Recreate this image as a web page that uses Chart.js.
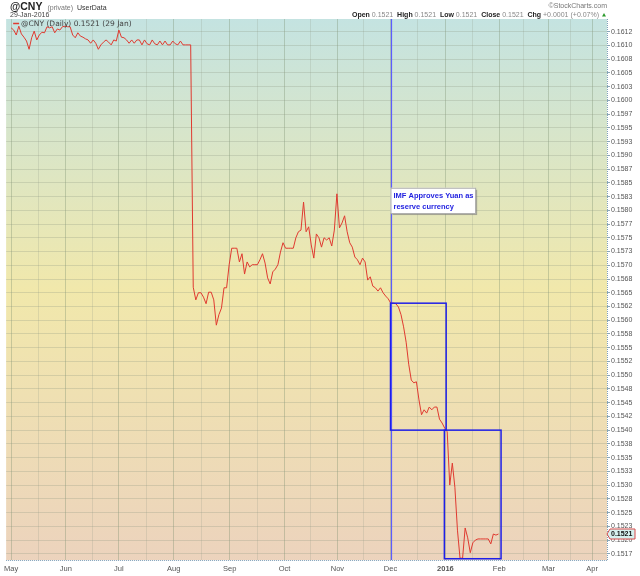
<!DOCTYPE html>
<html>
<head>
<meta charset="utf-8">
<script src="https://cdn.jsdelivr.net/npm/chart.js@4.4.0/dist/chart.umd.min.js"></script>
<style>
  body { margin: 0; background: #fff; }
  #wrap { width: 640px; height: 576px; }
</style>
</head>
<body>
<div id="wrap"><canvas id="myChart" width="640" height="576"></canvas></div>
<script>
// daily close, one value per trading day starting 1 May 2015
var rates = [
  0.16132, 0.16128, 0.16119, 0.16135, 0.16121, 0.16115, 0.16108, 0.16093, 0.16114, 0.16126,
  0.16110, 0.16119, 0.16124, 0.16123, 0.16134, 0.16132, 0.16134, 0.16123, 0.16130, 0.16128,
  0.16134, 0.16135, 0.16134, 0.16134, 0.16119, 0.16114, 0.16123, 0.16117, 0.16115, 0.16112,
  0.16110, 0.16104, 0.16110, 0.16104, 0.16093, 0.16101, 0.16106, 0.16110, 0.16106, 0.16101,
  0.16110, 0.16108, 0.16128, 0.16115, 0.16114, 0.16110, 0.16104, 0.16110, 0.16104, 0.16110,
  0.16110, 0.16101, 0.16110, 0.16103, 0.16101, 0.16110, 0.16103, 0.16101, 0.16108, 0.16101,
  0.16108, 0.16101, 0.16101, 0.16108, 0.16103, 0.16101, 0.16108, 0.16101, 0.16101, 0.16101,
  0.16101, 0.15660, 0.15637, 0.15650, 0.15650, 0.15642, 0.15630, 0.15651, 0.15651, 0.15637,
  0.15591, 0.15610, 0.15622, 0.15659, 0.15659, 0.15701, 0.15731, 0.15731, 0.15731, 0.15706,
  0.15721, 0.15684, 0.15706, 0.15697, 0.15701, 0.15701, 0.15701, 0.15710, 0.15721, 0.15704,
  0.15677, 0.15666, 0.15688, 0.15693, 0.15701, 0.15724, 0.15741, 0.15731, 0.15731, 0.15731,
  0.15731, 0.15750, 0.15761, 0.15764, 0.15815, 0.15761, 0.15770, 0.15737, 0.15713, 0.15757,
  0.15750, 0.15733, 0.15750, 0.15746, 0.15750, 0.15735, 0.15764, 0.15830, 0.15768, 0.15777,
  0.15790, 0.15761, 0.15741, 0.15733, 0.15715, 0.15710, 0.15701, 0.15713, 0.15706, 0.15673,
  0.15679, 0.15662, 0.15659, 0.15653, 0.15659, 0.15650, 0.15644, 0.15639, 0.15631, 0.15631,
  0.15630, 0.15624, 0.15610, 0.15588, 0.15560, 0.15520, 0.15491, 0.15486, 0.15488, 0.15455,
  0.15428, 0.15437, 0.15431, 0.15442, 0.15437, 0.15442, 0.15442, 0.15420, 0.15413, 0.15404,
  0.15397, 0.15300, 0.15340, 0.15296, 0.15218, 0.15167, 0.15167, 0.15222, 0.15204, 0.15177,
  0.15195, 0.15200, 0.15202, 0.15202, 0.15202, 0.15202, 0.15202, 0.15193, 0.15211, 0.15209,
  0.15211
];

// month boundaries in trading days
var monthPos = [0, 21.3, 42, 63.4, 85.2, 106.6, 127.2, 147.9, 169.3, 190.3, 209.5, 226.5];
var monthLabels = ['May', 'Jun', 'Jul', 'Aug', 'Sep', 'Oct', 'Nov', 'Dec', '2016', 'Feb', 'Mar', 'Apr'];

// right axis, bottom to top
var yTickLabels = ['0.1517', '0.1520', '0.1523', '0.1525', '0.1528', '0.1530', '0.1533', '0.1535',
  '0.1538', '0.1540', '0.1542', '0.1545', '0.1548', '0.1550', '0.1552', '0.1555', '0.1558', '0.1560',
  '0.1562', '0.1565', '0.1568', '0.1570', '0.1573', '0.1575', '0.1577', '0.1580', '0.1583', '0.1585',
  '0.1587', '0.1590', '0.1593', '0.1595', '0.1597', '0.1600', '0.1603', '0.1605', '0.1608', '0.1610',
  '0.1612'];
var yTickStart = 0.15175, yTickStep = 0.00025;

var lastClose = '0.1521';

var points = rates.map(function (v, i) { return {x: i, y: v}; });

var xTicks = [];
monthPos.forEach(function (p, i) {
  xTicks.push(p);
  if (i < monthPos.length - 1) xTicks.push((p + monthPos[i + 1]) / 2);
});

var FONT = '"Liberation Sans", Arial, sans-serif';

var background = {
  id: 'background',
  beforeDraw: function (chart) {
    var c = chart.ctx, a = chart.chartArea;
    var g = c.createLinearGradient(0, a.top, 0, a.bottom);
    g.addColorStop(0, '#c4e3e1');
    g.addColorStop(0.5, '#f1e8ab');
    g.addColorStop(1, '#ecd3bd');
    c.save();
    c.fillStyle = g;
    c.fillRect(a.left, a.top, a.right - a.left, a.bottom - a.top);
    c.restore();
  }
};

var notes = {
  id: 'notes',
  afterDatasetsDraw: function (chart) {
    var c = chart.ctx, a = chart.chartArea;
    var xs = chart.scales.x, ys = chart.scales.y;
    c.save();

    // dotted axis edges
    c.strokeStyle = '#7f9fb8';
    c.lineWidth = 1;
    c.setLineDash([1, 1]);
    c.beginPath();
    c.moveTo(a.left, a.bottom + 0.5); c.lineTo(a.right, a.bottom + 0.5);
    c.moveTo(a.right + 0.5, a.top); c.lineTo(a.right + 0.5, a.bottom);
    c.stroke();
    c.setLineDash([]);

    // Dec 1 marker
    var xd = Math.round(xs.getPixelForValue(147.9)) + 0.5;
    c.strokeStyle = '#5c5cff';
    c.lineWidth = 1.2;
    c.beginPath(); c.moveTo(xd, a.top); c.lineTo(xd, a.bottom); c.stroke();

    // the two boxes
    c.strokeStyle = '#1f1fe8';
    c.lineWidth = 1.5;
    function box(x0, x1, y0, y1) {
      var l = xs.getPixelForValue(x0), r = xs.getPixelForValue(x1);
      var t = ys.getPixelForValue(y0), b = ys.getPixelForValue(y1);
      c.strokeRect(l, t, r - l, b - t);
    }
    box(147.9, 169.6, 0.15631, 0.15400);
    box(168.9, 191.0, 0.15400, 0.15166);

    // note
    var nl = xs.getPixelForValue(147.9), nr = xs.getPixelForValue(180.9);
    var nt = ys.getPixelForValue(0.15841), nb = ys.getPixelForValue(0.15795);
    c.fillStyle = 'rgba(120,120,120,0.6)';
    c.fillRect(nl + 2, nt + 2, nr - nl, nb - nt);
    c.fillStyle = '#ffffff';
    c.fillRect(nl, nt, nr - nl, nb - nt);
    c.strokeStyle = '#b0b0b0';
    c.lineWidth = 1;
    c.strokeRect(nl + 0.5, nt + 0.5, nr - nl, nb - nt);
    c.fillStyle = '#2424e0';
    c.font = 'bold 7.5px ' + FONT;
    c.textBaseline = 'alphabetic';
    c.fillText('IMF Approves Yuan as', nl + 3, nt + 10);
    c.fillText('reserve currency', nl + 3, nt + 21);

    // legend
    c.strokeStyle = '#e03a30';
    c.lineWidth = 1.5;
    c.beginPath(); c.moveTo(a.left + 7, 23.5); c.lineTo(a.left + 13, 23.5); c.stroke();
    c.fillStyle = '#444';
    c.font = '7.5px "DejaVu Sans", sans-serif';
    c.fillText('@CNY (Daily) ' + lastClose + ' (29 Jan)', a.left + 15, 26);
    c.restore();
  },
  afterDraw: function (chart) {
    var c = chart.ctx, a = chart.chartArea, ys = chart.scales.y;
    c.save();
    c.textBaseline = 'alphabetic';
    c.fillStyle = '#222';
    c.font = 'bold 10.5px ' + FONT;
    c.fillText('@CNY', 10, 10);
    var w = c.measureText('@CNY').width;
    c.font = '7px ' + FONT;
    c.fillStyle = '#777';
    c.fillText('(private)', 10 + w + 5, 10);
    var w2 = c.measureText('(private) ').width;
    c.fillStyle = '#333';
    c.fillText('UserData', 10 + w + 5 + w2 + 2, 10);
    c.fillStyle = '#444';
    c.fillText('29-Jan-2016', 10, 17);

    c.fillStyle = '#777';
    c.textAlign = 'right';
    c.fillText('\u00a9StockCharts.com', a.right, 8);

    // quote line, right aligned
    var parts = [
      ['Open ', true], ['0.1521  ', false], ['High ', true], ['0.1521  ', false],
      ['Low ', true], ['0.1521  ', false], ['Close ', true], ['0.1521  ', false],
      ['Chg ', true], ['+0.0001 (+0.07%) ', false]
    ];
    c.textAlign = 'left';
    var total = 0;
    parts.forEach(function (p) {
      c.font = (p[1] ? 'bold ' : '') + '7px ' + FONT;
      total += c.measureText(p[0]).width;
    });
    var x = a.right - 6 - total;
    parts.forEach(function (p) {
      c.font = (p[1] ? 'bold ' : '') + '7px ' + FONT;
      c.fillStyle = p[1] ? '#222' : '#888';
      c.fillText(p[0], x, 17);
      x += c.measureText(p[0]).width;
    });
    c.fillStyle = '#2a9a2a';
    c.beginPath(); c.moveTo(a.right - 5, 16.5); c.lineTo(a.right - 1, 16.5); c.lineTo(a.right - 3, 13); c.closePath(); c.fill();

    // last close tag
    var yp = ys.getPixelForValue(rates[rates.length - 1]);
    c.fillStyle = '#d6f0ee';
    c.strokeStyle = '#d84a4a';
    c.lineWidth = 1;
    c.beginPath();
    c.moveTo(a.right, yp);
    c.lineTo(a.right + 3, yp - 5);
    c.lineTo(a.right + 28, yp - 5);
    c.lineTo(a.right + 28, yp + 5);
    c.lineTo(a.right + 3, yp + 5);
    c.closePath();
    c.fill(); c.stroke();
    c.fillStyle = '#111';
    c.font = 'bold 7px ' + FONT;
    c.textBaseline = 'middle';
    c.fillText(lastClose, a.right + 4, yp + 0.5);
    c.restore();
  }
};

var ctx = document.getElementById('myChart').getContext('2d');
var myChart = new Chart(ctx, {
  type: 'line',
  data: {
    datasets: [{
      label: '@CNY',
      data: points,
      borderColor: '#e03a30',
      borderWidth: 1,
      pointRadius: 0,
      tension: 0,
      fill: false
    }]
  },
  options: {
    responsive: false,
    animation: false,
    layout: { padding: { left: 5, top: 19, right: 0, bottom: 0 } },
    plugins: {
      legend: { display: false },
      tooltip: { enabled: false }
    },
    scales: {
      x: {
        type: 'linear',
        min: -1.95,
        max: 232.3,
        afterBuildTicks: function (scale) {
          scale.ticks = xTicks.map(function (v) { return {value: v}; });
        },
        afterFit: function (scale) { scale.height = 16; },
        grid: {
          color: function (c) {
            if (!c.tick) return 'rgba(0,0,0,0)';
            return monthPos.indexOf(c.tick.value) >= 0 ? 'rgba(120,140,110,0.35)' : 'rgba(140,150,130,0.22)';
          },
          drawTicks: false
        },
        border: { display: false },
        ticks: {
          autoSkip: false,
          maxRotation: 0,
          padding: 4,
          color: '#555',
          font: function (c) {
            var bold = c.tick && c.tick.value === monthPos[8];
            return { family: FONT, size: 7.5, weight: bold ? 'bold' : 'normal' };
          },
          callback: function (v) {
            var i = monthPos.indexOf(v);
            return i >= 0 ? monthLabels[i] : '';
          }
        }
      },
      y: {
        position: 'right',
        min: 0.151637,
        max: 0.161481,
        afterBuildTicks: function (scale) {
          scale.ticks = yTickLabels.map(function (t, i) { return {value: yTickStart + i * yTickStep}; });
        },
        afterFit: function (scale) { scale.width = 33; },
        grid: { color: 'rgba(140,150,130,0.28)', tickLength: 3, tickColor: '#8aa6b6' },
        border: { display: false },
        ticks: {
          padding: 1,
          color: '#555',
          font: { family: FONT, size: 7 },
          callback: function (v, i) { return yTickLabels[i]; }
        }
      }
    }
  },
  plugins: [background, notes]
});
</script>
</body>
</html>
